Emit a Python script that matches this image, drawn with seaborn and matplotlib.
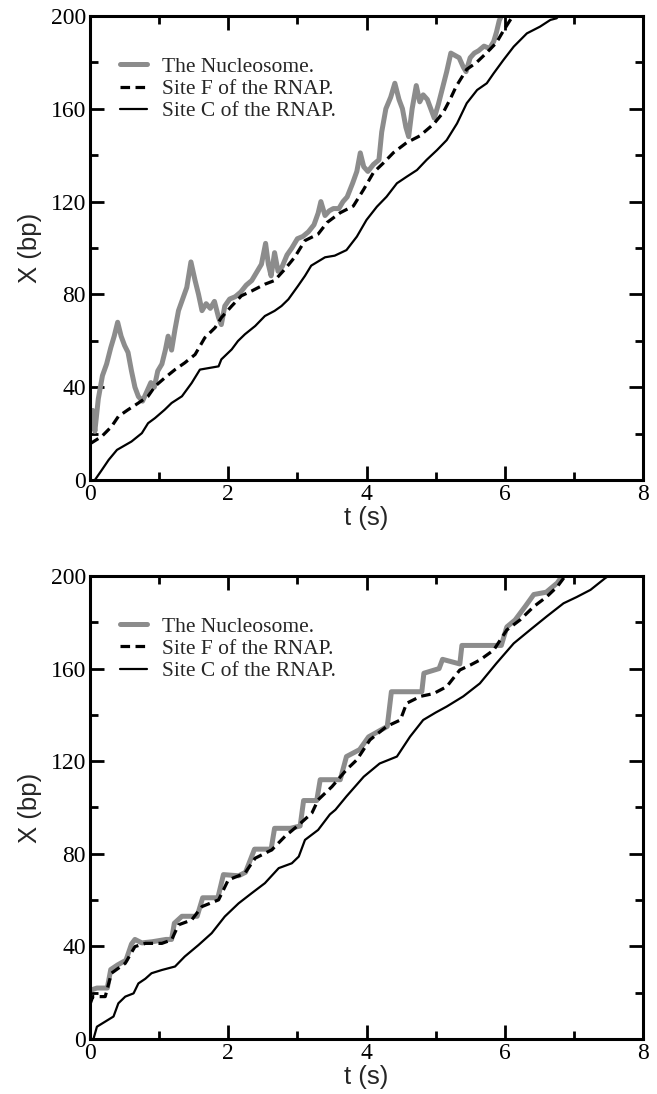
import matplotlib
matplotlib.use("Agg")
import matplotlib.pyplot as plt
from matplotlib.ticker import MultipleLocator
import seaborn as sns

# ---------------- Panel (a): nucleosome, RNAP site F, RNAP site C ----------------
t_nuc_a = [0.0, 0.04, 0.07, 0.12, 0.18, 0.24, 0.3, 0.35, 0.4, 0.45, 0.5, 0.55, 0.6, 0.65,
           0.7, 0.76, 0.82, 0.88, 0.93, 0.98, 1.04, 1.09, 1.13, 1.18, 1.23, 1.28, 1.34, 1.4,
           1.46, 1.52, 1.57, 1.62, 1.68, 1.74, 1.8, 1.86, 1.9, 1.95, 2.02, 2.1, 2.18, 2.26,
           2.34, 2.42, 2.48, 2.54, 2.58, 2.62, 2.67, 2.72, 2.78, 2.85, 2.92, 3.0, 3.08, 3.16,
           3.24, 3.3, 3.34, 3.4, 3.46, 3.52, 3.6, 3.66, 3.72, 3.8, 3.86, 3.91, 3.96, 4.02,
           4.1, 4.18, 4.22, 4.28, 4.35, 4.41, 4.47, 4.52, 4.57, 4.61, 4.66, 4.72, 4.77, 4.82,
           4.88, 4.93, 4.98, 5.04, 5.1, 5.16, 5.22, 5.28, 5.34, 5.4, 5.44, 5.5, 5.56, 5.62,
           5.7, 5.78, 5.84, 5.88, 5.92, 5.95]
x_nuc_a = [25, 30, 21, 35, 45, 50, 57, 62, 68, 62, 58, 55, 47, 40,
           36, 34, 38, 42, 40, 47, 50, 56, 62, 56, 65, 73, 78, 83,
           94, 86, 80, 73, 76, 74, 77, 70, 67, 75, 78, 79, 81, 84,
           86, 90, 93, 102, 93, 88, 98, 90, 92, 97, 100, 104, 105, 107,
           110, 115, 120, 114, 116, 117, 117, 120, 122, 128, 133, 141, 135, 133,
           136, 138, 150, 160, 165, 171, 164, 160, 152, 148, 160, 170, 163, 166,
           164, 160, 156, 162, 169, 176, 184, 183, 182, 178, 176, 182, 184, 185,
           187, 186, 189, 193, 198, 200]

t_F_a = [0.0, 0.02, 0.17, 0.31, 0.41, 0.55, 0.7, 0.84, 0.94, 1.08, 1.23, 1.37, 1.52, 1.66,
         1.81, 1.9, 2.05, 2.19, 2.34, 2.53, 2.67, 2.82, 2.96, 3.11, 3.3, 3.43, 3.62, 3.81,
         3.96, 4.1, 4.25, 4.39, 4.58, 4.77, 4.97, 5.11, 5.21, 5.3, 5.45, 5.59, 5.74, 5.88,
         5.98, 6.08, 6.12]
x_F_a = [16, 16, 18.8, 23, 27.4, 30.3, 33.2, 36.1, 40.4, 44, 47.6, 50.5, 54.1, 61.3,
         65.7, 70, 75, 79.4, 81.5, 84.4, 86, 90.9, 96, 103.2, 106, 111, 115.2, 118.1,
         125.3, 132.5, 136.8, 141.1, 145.4, 148.3, 153.4, 158.4, 164.1, 169.8, 177, 179.9, 184.2, 188.5,
         193.6, 198.3, 200]

t_C_a = [0.07, 0.17, 0.27, 0.39, 0.6, 0.75, 0.84, 0.94, 1.08, 1.18, 1.33, 1.47, 1.59, 1.86,
         1.9, 2.05, 2.14, 2.24, 2.39, 2.53, 2.67, 2.77, 2.87, 3.01, 3.11, 3.2, 3.4, 3.54,
         3.71, 3.86, 4.0, 4.15, 4.29, 4.44, 4.58, 4.73, 4.87, 5.02, 5.16, 5.31, 5.45, 5.6,
         5.74, 5.84, 5.98, 6.13, 6.32, 6.51, 6.66, 6.75, 6.78]
x_C_a = [0, 4.3, 8.7, 13, 16.6, 20.2, 24.5, 26.7, 30.3, 33.2, 36.1, 41.8, 47.6, 49,
         52, 56.3, 59.9, 62.8, 66.4, 70.7, 72.9, 75, 77.9, 83.7, 88, 92.4, 96, 96.7,
         99.1, 104.9, 112.1, 117.8, 122.1, 127.9, 130.7, 133.6, 138, 142.2, 146.5, 153.7, 162.4, 168.1,
         171, 175.3, 181, 186.8, 192.5, 195.4, 198.3, 199, 200]

# ---------------- Panel (b) ----------------
t_nuc_b = [0.0, 0.1, 0.25, 0.3, 0.4, 0.52, 0.6, 0.65, 0.75, 0.9, 1.1, 1.18, 1.22, 1.33,
           1.55, 1.63, 1.85, 1.93, 2.15, 2.25, 2.38, 2.62, 2.67, 2.9, 3.04, 3.09, 3.28, 3.33,
           3.62, 3.71, 3.9, 4.03, 4.3, 4.36, 4.8, 4.83, 5.05, 5.1, 5.35, 5.38, 5.95, 6.03,
           6.15, 6.3, 6.42, 6.6, 6.76, 6.83]
x_nuc_b = [21, 22, 22, 30, 32, 34, 41, 43, 41.5, 42, 43, 43, 50, 53,
           53, 61, 61, 71, 70.5, 72, 82, 82, 91, 91, 92, 103, 103, 112,
           112, 122, 125, 130.5, 135, 150, 150, 158, 160, 164, 162, 170, 170, 178,
           181, 187, 192, 193, 197, 200]

t_F_b = [0.0, 0.04, 0.22, 0.31, 0.51, 0.65, 0.8, 1.04, 1.18, 1.28, 1.47, 1.62, 1.86, 2.0,
         2.24, 2.39, 2.63, 2.82, 3.02, 3.21, 3.3, 3.5, 3.71, 3.86, 4.05, 4.29, 4.49, 4.58,
         4.78, 4.97, 5.16, 5.35, 5.5, 5.64, 5.84, 6.03, 6.22, 6.42, 6.61, 6.76, 6.85, 6.88]
x_F_b = [15, 18.3, 18.3, 28.4, 32.7, 39.9, 41.3, 41.3, 42.8, 49.3, 51.4, 57.2, 60.1, 68.7,
         71.6, 78.1, 81.7, 87.5, 92.5, 97.6, 103.3, 109, 116.3, 120.6, 129.2, 135, 137.8, 145,
         148, 149.2, 152.2, 159.4, 161.5, 163.7, 168, 176.7, 181, 186.8, 191.1, 195.4, 199, 200]

t_C_b = [0.05, 0.1, 0.22, 0.34, 0.41, 0.51, 0.63, 0.7, 0.8, 0.89, 1.04, 1.23, 1.37, 1.57,
         1.76, 1.95, 2.15, 2.34, 2.53, 2.73, 2.92, 3.02, 3.11, 3.3, 3.47, 3.55, 3.71, 3.96,
         4.19, 4.44, 4.63, 4.82, 5.0, 5.16, 5.4, 5.64, 5.88, 6.13, 6.37, 6.61, 6.85, 7.04,
         7.24, 7.45, 7.5]
x_C_b = [0, 5.3, 7.5, 9.7, 15.4, 18.3, 19.7, 24, 26, 28.4, 29.8, 31.3, 35.6, 40.6,
         45.7, 52.9, 58.6, 63, 67.3, 73.8, 75.9, 78.8, 86, 90.3, 97, 99, 104.8, 113.3,
         119, 122, 130.6, 137.8, 141, 143.6, 148, 153.6, 162.3, 170.9, 176.8, 182.6, 188.2, 190.9,
         194, 199, 200]

labels = ["The Nucleosome.", "Site F of the RNAP.", "Site C of the RNAP."]
x_ticks = [0, 2, 4, 6, 8]
y_ticks = [0, 40, 80, 120, 160, 200]

sns.set_theme(style="ticks")
serif = ["Liberation Serif", "DejaVu Serif"]
sans = ["Liberation Sans", "DejaVu Sans"]
plt.rcParams["font.family"] = serif

fig = plt.figure(figsize=(6.57, 10.94), dpi=100)
ax_a = fig.add_axes([0.137, 0.5612, 0.8417, 0.4242])
ax_b = fig.add_axes([0.137, 0.0503, 0.8417, 0.4232])

panels = [
    (ax_a, t_nuc_a, x_nuc_a, t_F_a, x_F_a, t_C_a, x_C_a),
    (ax_b, t_nuc_b, x_nuc_b, t_F_b, x_F_b, t_C_b, x_C_b),
]

for ax, tn, xn, tf, xf, tc, xc in panels:
    sns.lineplot(x=tn, y=xn, ax=ax, color="#8c8c8c", lw=3.6, label=labels[0],
                 estimator=None, sort=False)
    sns.lineplot(x=tf, y=xf, ax=ax, color="black", lw=2.3, linestyle=(0, (3.0, 1.7)),
                 label=labels[1], estimator=None, sort=False)
    sns.lineplot(x=tc, y=xc, ax=ax, color="black", lw=1.6, label=labels[2],
                 estimator=None, sort=False)

    ax.set_xlim(0, 8)
    ax.set_ylim(0, 200)
    ax.set_xticks(x_ticks)
    ax.set_yticks(y_ticks)
    ax.xaxis.set_minor_locator(MultipleLocator(1))
    ax.yaxis.set_minor_locator(MultipleLocator(20))
    ax.tick_params(which="both", direction="in", top=True, right=True,
                   width=2.0, colors="black", labelsize=17, pad=3)
    ax.tick_params(which="major", length=10)
    ax.tick_params(which="minor", length=5.5)
    for sp in ax.spines.values():
        sp.set_linewidth(2.2)
        sp.set_color("black")
    for lab in ax.get_xticklabels() + ax.get_yticklabels():
        lab.set_family(serif)

    ax.set_xlabel("t (s)", family=sans, fontsize=18.5, labelpad=0.5)
    ax.set_ylabel("X (bp)", family=sans, fontsize=18.5, labelpad=6)

    ax.legend(loc="upper left", bbox_to_anchor=(0.054, 0.912), frameon=False,
              prop={"family": serif, "size": 15.5},
              handlelength=1.25, handletextpad=0.7, labelspacing=0.1,
              borderaxespad=0.0, borderpad=0.0)

fig.savefig("out.png", dpi=100, facecolor="white")
